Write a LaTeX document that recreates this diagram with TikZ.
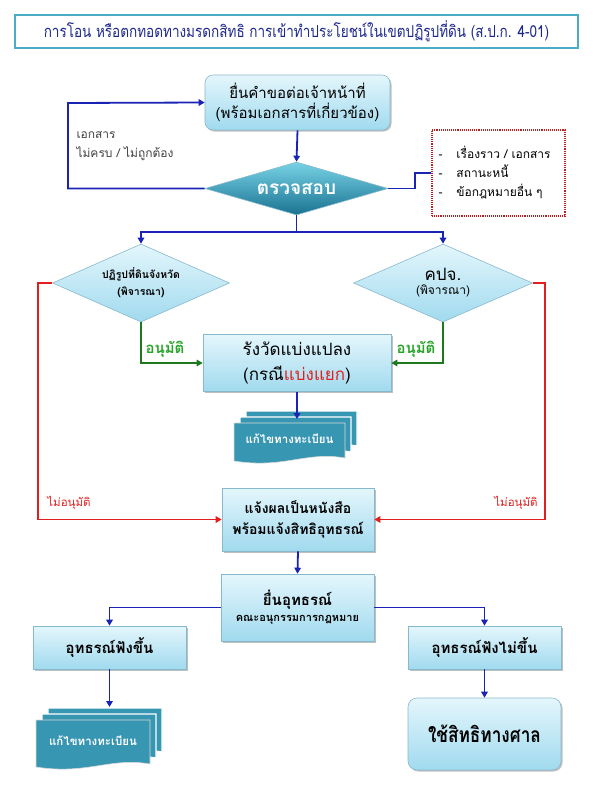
\documentclass[tikz,border=0pt]{standalone}
\usepackage{fontspec}
\setmainfont[Script=Thai]{Loma}
\newfontfamily\narrowthai[Script=Thai,FakeStretch=0.82]{Loma}
\usetikzlibrary{shapes.geometric,arrows.meta,shadows,calc}
\definecolor{arrblue}{RGB}{25,35,180}
\definecolor{redl}{RGB}{228,30,30}
\definecolor{greenl}{RGB}{30,120,30}
\definecolor{greent}{RGB}{40,165,40}
\definecolor{boxtop}{RGB}{228,246,252}
\definecolor{boxbot}{RGB}{160,218,238}
\definecolor{boxline}{RGB}{135,185,205}
\definecolor{dtop}{RGB}{120,210,230}
\definecolor{dbot}{RGB}{25,115,145}
\definecolor{docteal}{RGB}{55,150,178}
\definecolor{titleline}{RGB}{75,172,198}
\definecolor{titletext}{RGB}{30,40,140}
\definecolor{notered}{RGB}{190,30,30}
\tikzset{
  box/.style={draw=boxline, line width=0.6pt, top color=boxtop, bottom color=boxbot,
    align=center, inner sep=2pt,
    drop shadow={shadow xshift=1.5pt, shadow yshift=-1.5pt, opacity=0.25, fill=black}},
  dia/.style={diamond, draw=boxline, line width=0.6pt, top color=boxtop, bottom color=boxbot,
    align=center, inner sep=0pt, aspect=2.3},
  arr/.style={draw=arrblue, line width=1.8pt, -{Triangle[length=6pt,width=6.5pt]}},
  bline/.style={draw=arrblue, line width=1.8pt},
  rarr/.style={draw=redl, line width=1.4pt, -{Triangle[length=6pt,width=6.5pt]}},
  garr/.style={draw=greenl, line width=1.4pt, -{Triangle[length=6pt,width=6.5pt]}},
  page/.style={fill=docteal, draw=white, line width=1.2pt},
}
\newcommand\mydocs[6]{%
  % #1 name, (#2,#3) front top-left, (#4,#5) front bottom-right
  \foreach \dd in {12,6}{%
    \path[page] ({#2+\dd},{#3-\dd}) -- ({#4+\dd},{#3-\dd}) -- ({#4+\dd},{#5-\dd-3})
      .. controls ({#4+\dd-0.35*(#4-#2)},{#5-\dd-10}) and ({#2+\dd+0.45*(#4-#2)},{#5-\dd+8}) .. ({#2+\dd},{#5-\dd}) -- cycle;}
  \path[page, draw=black!15, line width=0.6pt] (#2,#3) -- (#4,#3) -- (#4,{#5-3})
      .. controls ({#4-0.35*(#4-#2)},{#5-10}) and ({#2+0.45*(#4-#2)},{#5+8}) .. (#2,#5) -- cycle;
  \node[text=white, font=\bfseries\fontsize{11.5}{14}\selectfont] (#1) at ({(#2+#4)/2},{(#3+#5)/2-3}) {#6};
}
\begin{document}
\begin{tikzpicture}[x=1pt,y=-1pt]
\useasboundingbox (0,0) rectangle (593,790);
% title
\node[draw=titleline, line width=2pt, fill=white, minimum width=563pt, minimum height=33pt,
  text=titletext, font=\narrowthai\fontsize{16.5}{18}\selectfont] (title) at (296.5,31.5)
  {การโอน หรือตกทอดทางมรดกสิทธิ การเข้าทำประโยชน์ในเขตปฏิรูปที่ดิน (ส.ป.ก. 4-01)};
% top request box
\node[box, rounded corners=8pt, minimum width=185pt, minimum height=55pt,
  font=\fontsize{15}{20}\selectfont] (b1) at (297.5,102.5)
  {ยื่นคำขอต่อเจ้าหน้าที่\\(พร้อมเอกสารที่เกี่ยวข้อง)};
% check diamond
\node[diamond, draw=boxline, line width=0.6pt, top color=dtop, bottom color=dbot, inner sep=0pt,
  aspect=3.4, minimum width=183pt, minimum height=53pt, text=white,
  font=\bfseries\fontsize{19}{22}\selectfont] (chk) at (296.5,188.5) {ตรวจสอบ};
% note box
\node[draw=notered, densely dotted, line width=1.1pt, fill=white, minimum width=133pt, minimum height=86pt,
  align=left, text width=120pt, font=\fontsize{12}{19}\selectfont] (note) at (498.5,173)
  {-\hspace{14pt}เรื่องราว / เอกสาร\\-\hspace{14pt}สถานะหนี้\\-\hspace{14pt}ข้อกฎหมายอื่น ๆ};
\node[anchor=west, align=left, text=black!75, font=\fontsize{12}{19}\selectfont] (lbl1) at (73,146)
  {เอกสาร\\ไม่ครบ / ไม่ถูกต้อง};
\coordinate (lp) at (68,103);
\draw[arr] (chk.west) -| (lp) -- (b1.west);
\draw[arr] (b1.south) -- (chk.north);
\coordinate (rj) at (415,188.5);
\draw[bline] (chk.east) -- (rj) |- (note.west);
% decisions
\node[dia, minimum width=177pt, minimum height=78pt, font=\bfseries\fontsize{10.5}{17}\selectfont] (d1) at (141,283)
  {ปฏิรูปที่ดินจังหวัด\\(พิจารณา)};
\node[dia, minimum width=179pt, minimum height=78pt] (d2) at (443,283)
  {{\fontsize{17}{20}\selectfont คปจ.}\\[2pt]{\fontsize{12}{14}\selectfont (พิจารณา)}};
\coordinate (split) at (296.5,232);
\draw[bline] (chk.south) -- (split);
\draw[arr] (split) -| (d1.north);
\draw[arr] (split) -| (d2.north);
% survey box
\node[box, minimum width=188pt, minimum height=57pt, font=\fontsize{17}{25}\selectfont] (b3) at (297,363)
  {รังวัดแบ่งแปลง\\(กรณี\textcolor{redl}{แบ่งแยก})};
\draw[garr] (d1.south) |- (b3.west);
\draw[garr] (d2.south) |- (b3.east);
\node[text=greent, font=\bfseries\fontsize{15}{17}\selectfont] (ok1) at (165,349) {อนุมัติ};
\node[text=greent, font=\bfseries\fontsize{15}{17}\selectfont] (ok2) at (416,349) {อนุมัติ};
% doc stack 1
\mydocs{doc1}{234}{423}{345}{461}{แก้ไขทางทะเบียน}
\coordinate (dk1) at (297,419);
\draw[arr] (b3.south) -- (dk1);
% notify box
\node[box, minimum width=152pt, minimum height=63pt, font=\bfseries\fontsize{14}{21}\selectfont] (b4) at (298,519.5)
  {แจ้งผลเป็นหนังสือ\\พร้อมแจ้งสิทธิอุทธรณ์};
\coordinate (rl) at (38,283);
\coordinate (rr) at (545,283);
\draw[rarr] (d1.west) -- (rl) |- (b4.west);
\draw[rarr] (d2.east) -- (rr) |- (b4.east);
\node[text=redl, font=\fontsize{11.5}{14}\selectfont] (no1) at (69,503) {ไม่อนุมัติ};
\node[text=redl, font=\fontsize{11.5}{14}\selectfont] (no2) at (516,503) {ไม่อนุมัติ};
% appeal box
\node[box, minimum width=153pt, minimum height=67pt] (b5) at (297.5,607.5)
  {{\bfseries\fontsize{15}{18}\selectfont ยื่นอุทธรณ์}\\[4pt]{\bfseries\fontsize{11}{13}\selectfont คณะอนุกรรมการกฎหมาย}};
\draw[arr] (b4.south) -- (b5.north);
\node[box, minimum width=153pt, minimum height=43pt, font=\bfseries\fontsize{15}{18}\selectfont] (b6) at (109.5,647.5)
  {อุทธรณ์ฟังขึ้น};
\node[box, minimum width=153pt, minimum height=43pt, font=\bfseries\fontsize{15}{18}\selectfont] (b7) at (484.5,647.5)
  {อุทธรณ์ฟังไม่ขึ้น};
\draw[arr] (b5.west) -| (b6.north);
\draw[arr] (b5.east) -| (b7.north);
% doc stack 2
\mydocs{doc2}{36}{720}{150}{767}{แก้ไขทางทะเบียน}
\coordinate (dk2) at (109.5,707);
\draw[arr] (b6.south) -- (dk2);
% court
\node[box, rounded corners=9pt, minimum width=153pt, minimum height=72pt,
  font=\narrowthai\bfseries\fontsize{21}{26}\selectfont] (b8) at (484.5,734) {ใช้สิทธิทางศาล};
\draw[arr] (b7.south) -- (b8.north);
\end{tikzpicture}
\end{document}
